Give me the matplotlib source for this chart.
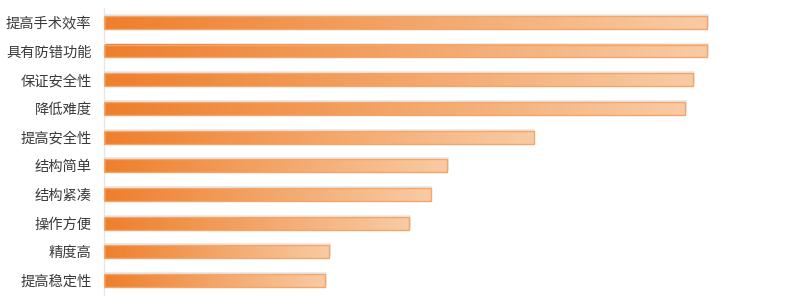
import numpy as np
import matplotlib.pyplot as plt
from matplotlib.colors import LinearSegmentedColormap
from matplotlib.patches import Rectangle

plt.rcParams['font.family'] = ['Noto Sans CJK SC', 'DejaVu Sans']

# data (top to bottom)
labels = ["提高手术效率", "具有防错功能", "保证安全性", "降低难度", "提高安全性",
          "结构简单", "结构紧凑", "操作方便", "精度高", "提高稳定性"]
values = [82, 82, 80.1, 79, 58.4, 46.6, 44.4, 41.5, 30.6, 30.1]

cmap = LinearSegmentedColormap.from_list("og", ["#ee7f2c", "#f9cba4"])
grad = np.linspace(0, 1, 256).reshape(1, -1)

fig = plt.figure(figsize=(8, 3.06), dpi=100)
ax = fig.add_axes([0.13, 0.036, 0.857, 0.938])

h = 0.45
for i, v in enumerate(values):
    # soft shadow under the bar
    ax.add_patch(Rectangle((0.1, i - h / 2 - 0.07), v + 0.15, h, facecolor="#000000",
                           alpha=0.08, edgecolor="none", zorder=1))
    ax.imshow(grad, cmap=cmap, aspect="auto", extent=[0, v, i + h / 2, i - h / 2],
              zorder=2)
    ax.add_patch(Rectangle((0, i - h / 2), v, h, facecolor="none",
                           edgecolor="#f3a56a", linewidth=1.0, zorder=3))

ax.set_xlim(0, 93.2)
ax.set_ylim(9.5, -0.5)
ax.set_yticks(range(len(labels)))
ax.set_yticklabels(labels, fontsize=10.3, color="#3a3a3a")
ax.tick_params(axis="y", length=0, pad=9)
ax.set_xticks([])
for s in ["top", "right", "bottom"]:
    ax.spines[s].set_visible(False)
ax.spines["left"].set_color("#e6e6e6")
ax.spines["left"].set_linewidth(1.0)

fig.savefig("out.png", dpi=100)
